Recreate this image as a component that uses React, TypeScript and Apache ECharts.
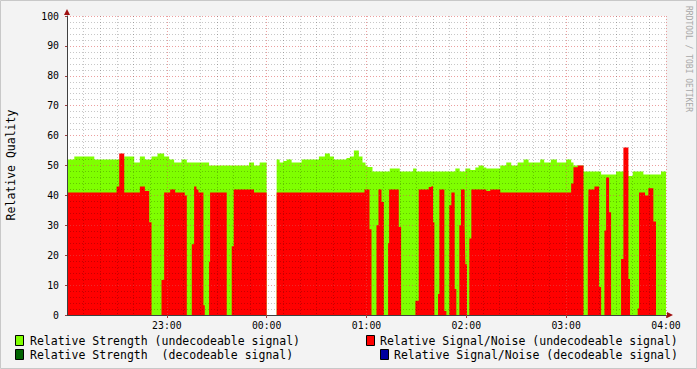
import React, { useEffect, useRef } from "react";
import * as echarts from "echarts";

// minutes after 22:00 at which each step starts, value held until the next step
const strengthSteps: [number, number | null][] = [
  [0, 52], [4.4, 53], [16.4, 52], [34.4, 53], [40.4, 51], [43.8, 53], [46.8, 52],
  [50.8, 53], [54.4, 54], [58.4, 53], [61.4, 52], [64.4, 51], [68.8, 52], [72, 51],
  [85.4, 50], [109.4, 51], [112.4, 50], [115.8, 51], [120, null],
  [126, 52], [127.8, 51], [130, 51.5], [132, 52], [135, 51], [141, 52], [151.4, 53],
  [155, 54], [158, 53], [160.4, 52], [168, 52.5], [170, 53], [172.4, 55], [175.4, 53],
  [177.6, 51], [179.4, 50], [180.6, 49.5], [183.6, 48], [194, 49], [200, 48], [208, 49],
  [210, 48], [233.4, 49], [236, 48], [239.4, 49], [242.4, 48.5], [245.4, 49.3], [247.4, 50],
  [250.4, 49.3], [252, 49], [260.4, 50], [264, 51], [267, 50], [270.8, 51], [274.4, 52],
  [277.4, 51], [284.4, 52], [286.8, 51], [290.8, 52], [294.4, 51], [300, 52], [303, 51],
  [304.4, 50], [310.4, 48], [321, 47], [330, 48], [337.4, 46.5], [340, 48], [346.4, 47],
  [357, 48],
];

const snrSteps: [number, number | null][] = [
  [0, 41], [29.8, 43], [31.4, 54], [34.4, 41], [43.8, 43], [46.8, 41.5], [49.4, 31],
  [50.8, 0], [56.8, 11.7], [58.4, 41], [62, 42], [65, 41], [70.8, 40], [72, 0],
  [75, 23.7], [76.4, 43], [77.8, 42], [79, 41], [82, 3.3], [82.8, 0], [85.4, 17.8],
  [86, 41], [96, 0], [99, 23], [100.2, 42], [112.4, 41], [120, null],
  [126, 41], [178.8, 42], [181.8, 28.7], [183, 0], [186, 30], [187.2, 42], [189, 37.8],
  [190.4, 0], [193, 24], [193.6, 42], [199.4, 29.4], [200.8, 0], [209.4, 4.8],
  [211.4, 42], [217.4, 42.8], [219, 43.1], [220, 31], [220.8, 0], [223, 7], [223.8, 42],
  [226.8, 1.3], [228, 0], [229.8, 36.7], [231, 41], [233, 8.7], [234, 0], [235.8, 30],
  [236.8, 42], [239, 30], [239.4, 17], [240.4, 0], [241.8, 25.6], [243, 42], [252, 41.5],
  [254.4, 42], [260.4, 41], [303, 44], [304.4, 49.4], [307, 50], [310.4, 0], [313, 22.4],
  [313.4, 42], [317, 43], [319.8, 9.4], [321, 0], [323, 28.3], [324, 46], [325.8, 34.4],
  [327, 0], [333, 18.7], [334.4, 56], [337.4, 12], [338.4, 0], [343, 2.2], [343.8, 41],
  [347.4, 40], [349.4, 42.4], [352.4, 31.3], [354, 0],
];

const xMax = 360; // 22:00 .. 04:00
const yTicks = [0, 10, 20, 30, 40, 50, 60, 70, 80, 90, 100];

const legendItems = [
  { label: "Relative Strength (undecodeable signal)", color: "#7FFF00" },
  { label: "Relative Strength  (decodeable signal)", color: "#006400" },
  { label: "Relative Signal/Noise (undecodeable signal)", color: "#FF0000" },
  { label: "Relative Signal/Noise (decodeable signal)", color: "#0000A0" },
];

function toStepData(steps: [number, number | null][]) {
  const out: (number | null)[][] = [];
  let prev: number | null = null;
  for (const [t, v] of steps) {
    if (v === null) {
      if (prev !== null) out.push([t, prev]);
      out.push([t, null]);
    } else {
      out.push([t, v]);
    }
    prev = v;
  }
  if (prev !== null) out.push([xMax, prev]);
  return out;
}

const MONO = "'DejaVu Sans Mono', monospace";
const W = 697;
const H = 369;
const G = { left: 67, top: 16, right: 31, bottom: 54 };

export default function App() {
  const ref = useRef<HTMLDivElement>(null);
  useEffect(() => {
    if (!ref.current) return;
    const chart = echarts.init(ref.current, null, { renderer: "svg" });
    const fmt = (v: number) => {
      if (v === 0) return "";
      const h = (22 + Math.round(v / 60)) % 24;
      return (h < 10 ? "0" : "") + h + ":00";
    };
    const mkSeries = (name: string, steps: [number, number | null][], color: string, z: number) => ({
      name,
      type: "line",
      step: "end",
      data: toStepData(steps),
      showSymbol: false,
      symbol: "none",
      connectNulls: false,
      lineStyle: { width: 0, color },
      itemStyle: { color },
      areaStyle: { color, opacity: 1 },
      z,
    });
    const legendGraphics: any[] = [];
    const legendPos = [
      { rx: 15, tx: 30, y: 341 },
      { rx: 15, tx: 30, y: 355 },
      { rx: 366, tx: 380, y: 341 },
      { rx: 380, tx: 394, y: 355 },
    ];
    legendItems.forEach((it, i) => {
      const p = legendPos[i];
      legendGraphics.push({
        type: "rect",
        shape: { x: p.rx + 0.5, y: p.y - 5.5, width: 8, height: 10 },
        style: { fill: it.color, stroke: "#000", lineWidth: 1 },
      });
      legendGraphics.push({
        type: "text",
        x: p.tx,
        y: p.y,
        style: {
          text: it.label,
          fill: "#000",
          font: `11.5px ${MONO}`,
          textVerticalAlign: "middle",
          textAlign: "left",
        },
      });
    });
    const axL = G.left;
    const axT = G.top;
    const axR = W - G.right;
    const axB = H - G.bottom;
    chart.setOption({
      animation: false,
      backgroundColor: "#F3F3F3",
      grid: {
        left: G.left,
        top: G.top,
        right: G.right,
        bottom: G.bottom,
        show: true,
        backgroundColor: "#FFFFFF",
        borderWidth: 0,
      },
      xAxis: {
        type: "value",
        min: 0,
        max: xMax,
        interval: 60,
        z: 3,
        axisLine: { show: true, lineStyle: { color: "#404040", width: 1 } },
        axisTick: { show: true, length: 3, inside: false, lineStyle: { color: "#A04040" } },
        axisLabel: {
          formatter: fmt,
          color: "#000",
          fontFamily: MONO,
          fontSize: 9.8,
          margin: 5,
          showMinLabel: false,
        },
        splitLine: { show: true, lineStyle: { color: "rgba(220,80,80,0.55)", type: [1, 2], width: 1 } },
        minorTick: { show: false, splitNumber: 6 },
        minorSplitLine: { show: true, lineStyle: { color: "rgba(0,0,0,0.22)", type: [1, 2], width: 1 } },
      },
      yAxis: {
        type: "value",
        min: yTicks[0],
        max: yTicks[yTicks.length - 1],
        interval: 10,
        z: 3,
        axisLine: { show: true, lineStyle: { color: "#404040", width: 1 } },
        axisTick: { show: true, length: 2, lineStyle: { color: "#A04040" } },
        axisLabel: {
          color: "#000",
          fontFamily: MONO,
          fontSize: 9.8,
          margin: 8,
        },
        splitLine: { show: true, lineStyle: { color: "rgba(220,80,80,0.55)", type: [1, 2], width: 1 } },
        minorTick: { show: false, splitNumber: 5 },
        minorSplitLine: { show: true, lineStyle: { color: "rgba(0,0,0,0.22)", type: [1, 2], width: 1 } },
      },
      series: [
        mkSeries("Relative Strength (undecodeable signal)", strengthSteps, "#7FFF00", 1),
        mkSeries("Relative Signal/Noise (undecodeable signal)", snrSteps, "#FF0000", 2),
      ],
      graphic: [
        {
          type: "rect",
          shape: { x: 0.5, y: 0.5, width: W - 1, height: H - 1 },
          style: { fill: "none", stroke: "#C8C8C8", lineWidth: 1 },
          silent: true,
        },
        {
          type: "text",
          x: 11,
          y: 165,
          rotation: Math.PI / 2,
          style: {
            text: "Relative Quality",
            fill: "#000",
            font: `11.5px ${MONO}`,
            textAlign: "center",
            textVerticalAlign: "middle",
          },
        },
        {
          type: "text",
          x: 688,
          y: 59,
          rotation: -Math.PI / 2,
          style: {
            text: "RRDTOOL / TOBI OETIKER",
            fill: "#A8A8A8",
            font: `8px ${MONO}`,
            textAlign: "center",
            textVerticalAlign: "middle",
          },
        },
        {
          type: "polygon",
          shape: { points: [[axL - 3, axT - 1], [axL + 3, axT - 1], [axL, axT - 7]] },
          style: { fill: "#A01010" },
        },
        {
          type: "polygon",
          shape: { points: [[axR + 1, axB - 3], [axR + 1, axB + 3], [axR + 7, axB]] },
          style: { fill: "#A01010" },
        },
        ...legendGraphics,
      ],
    });
    return () => chart.dispose();
  }, []);
  return (
    <div
      ref={ref}
      style={{ position: "fixed", left: 0, top: 0, width: W, height: H }}
    />
  );
}
